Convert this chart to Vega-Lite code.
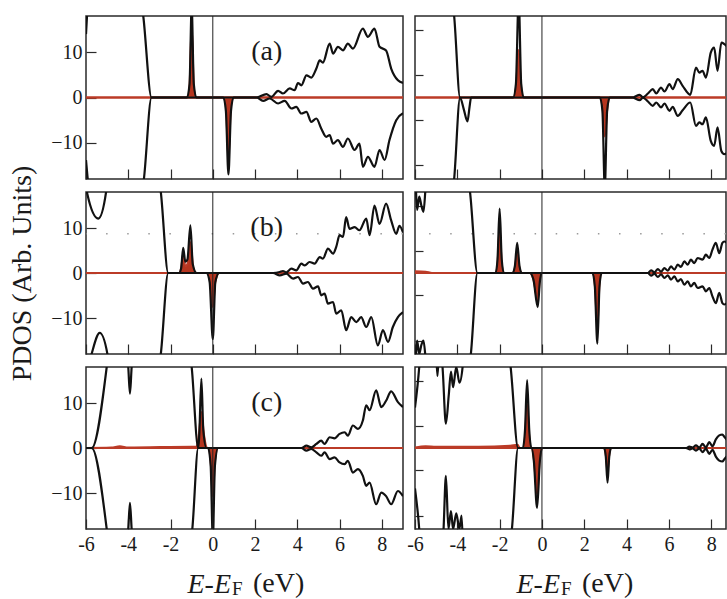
{
"$schema": "https://vega.github.io/schema/vega-lite/v6.json",
"padding": {"left": 7, "top": 14, "right": 0, "bottom": 2},
"datasets": {
"aL": [
{"s":"up","x":-6,"y":14},{"s":"up","x":-5.94,"y":19},{"s":"up","x":-5.8,"y":25},{"s":"up","x":-3.5,"y":25},{"s":"up","x":-3.29,"y":18},{"s":"up","x":-2.9,"y":0},{"s":"up","x":-1.22,"y":0},{"s":"up","x":-1.1,"y":3},{"s":"up","x":-1.0,"y":20},{"s":"up","x":-0.9,"y":3},{"s":"up","x":-0.78,"y":0},{"s":"up","x":2.06,"y":0},{"s":"up","x":2.54,"y":0.74},{"s":"up","x":2.77,"y":0.15},{"s":"up","x":3.09,"y":1.47},{"s":"up","x":3.32,"y":0.88},{"s":"up","x":3.64,"y":2.0},{"s":"up","x":3.87,"y":1.6},{"s":"up","x":4.03,"y":3.2},{"s":"up","x":4.19,"y":2.7},{"s":"up","x":4.43,"y":4.9},{"s":"up","x":4.66,"y":4.4},{"s":"up","x":4.9,"y":6.4},{"s":"up","x":5.06,"y":8.2},{"s":"up","x":5.21,"y":7.7},{"s":"up","x":5.53,"y":11.9},{"s":"up","x":5.69,"y":9.7},{"s":"up","x":5.92,"y":11.2},{"s":"up","x":6.16,"y":10.4},{"s":"up","x":6.39,"y":11.9},{"s":"up","x":6.63,"y":10.8},{"s":"up","x":7.1,"y":15.2},{"s":"up","x":7.34,"y":13.4},{"s":"up","x":7.65,"y":15.2},{"s":"up","x":7.89,"y":11.2},{"s":"up","x":8.2,"y":10.4},{"s":"up","x":8.44,"y":6.4},{"s":"up","x":8.76,"y":3.8},{"s":"up","x":9.0,"y":3.2},
{"s":"dn","x":-6,"y":-13.8},{"s":"dn","x":-5.9,"y":-19},{"s":"dn","x":-5.8,"y":-25},{"s":"dn","x":-3.5,"y":-25},{"s":"dn","x":-3.26,"y":-18},{"s":"dn","x":-2.9,"y":0},{"s":"dn","x":0.5,"y":0},{"s":"dn","x":0.62,"y":-3},{"s":"dn","x":0.74,"y":-17},{"s":"dn","x":0.86,"y":-3},{"s":"dn","x":0.98,"y":0},{"s":"dn","x":2.06,"y":0},{"s":"dn","x":2.38,"y":-0.74},{"s":"dn","x":2.69,"y":-0.22},{"s":"dn","x":3.09,"y":-1.32},{"s":"dn","x":3.4,"y":-0.74},{"s":"dn","x":3.72,"y":-2.43},{"s":"dn","x":3.95,"y":-2.06},{"s":"dn","x":4.19,"y":-3.53},{"s":"dn","x":4.43,"y":-3.16},{"s":"dn","x":4.66,"y":-5.37},{"s":"dn","x":4.9,"y":-4.64},{"s":"dn","x":5.13,"y":-6.84},{"s":"dn","x":5.37,"y":-8.68},{"s":"dn","x":5.53,"y":-8.3},{"s":"dn","x":5.69,"y":-10.2},{"s":"dn","x":5.92,"y":-9.4},{"s":"dn","x":6.16,"y":-10.9},{"s":"dn","x":6.39,"y":-9.05},{"s":"dn","x":6.71,"y":-11.6},{"s":"dn","x":6.94,"y":-10.2},{"s":"dn","x":7.1,"y":-15.3},{"s":"dn","x":7.34,"y":-13.1},{"s":"dn","x":7.65,"y":-15.3},{"s":"dn","x":7.89,"y":-11.6},{"s":"dn","x":8.13,"y":-13.8},{"s":"dn","x":8.36,"y":-9.4},{"s":"dn","x":8.68,"y":-5.0},{"s":"dn","x":9.0,"y":-3.5},
{"s":"rup","x":-6,"y":0},{"s":"rup","x":-1.18,"y":0},{"s":"rup","x":-1.1,"y":2.5},{"s":"rup","x":-1.0,"y":16},{"s":"rup","x":-0.9,"y":2.5},{"s":"rup","x":-0.82,"y":0},{"s":"rup","x":9,"y":0},
{"s":"rdn","x":-6,"y":0},{"s":"rdn","x":0.52,"y":0},{"s":"rdn","x":0.63,"y":-2.5},{"s":"rdn","x":0.74,"y":-14},{"s":"rdn","x":0.85,"y":-2.5},{"s":"rdn","x":0.96,"y":0},{"s":"rdn","x":9,"y":0}
],
"bL": [
{"s":"up","x":-6,"y":22},{"s":"up","x":-5.94,"y":17.6},{"s":"up","x":-5.42,"y":12.1},{"s":"up","x":-5.05,"y":18},{"s":"up","x":-4.9,"y":25},{"s":"up","x":-2.7,"y":25},{"s":"up","x":-2.46,"y":18},{"s":"up","x":-2.11,"y":0},{"s":"up","x":-1.6,"y":0},{"s":"up","x":-1.5,"y":1},{"s":"up","x":-1.4,"y":5.6},{"s":"up","x":-1.3,"y":2.5},{"s":"up","x":-1.2,"y":3},{"s":"up","x":-1.06,"y":10.6},{"s":"up","x":-0.95,"y":2},{"s":"up","x":-0.77,"y":0},{"s":"up","x":2.85,"y":0},{"s":"up","x":3.17,"y":0.22},{"s":"up","x":3.32,"y":0.44},{"s":"up","x":3.48,"y":0.15},{"s":"up","x":3.72,"y":0.96},{"s":"up","x":3.95,"y":0.59},{"s":"up","x":4.19,"y":2.07},{"s":"up","x":4.35,"y":1.7},{"s":"up","x":4.58,"y":2.44},{"s":"up","x":4.82,"y":2.07},{"s":"up","x":5.06,"y":3.55},{"s":"up","x":5.21,"y":3.19},{"s":"up","x":5.45,"y":5.4},{"s":"up","x":5.69,"y":4.3},{"s":"up","x":5.84,"y":5.8},{"s":"up","x":6.0,"y":8.4},{"s":"up","x":6.16,"y":8.0},{"s":"up","x":6.31,"y":12.4},{"s":"up","x":6.47,"y":9.8},{"s":"up","x":6.71,"y":10.2},{"s":"up","x":6.94,"y":9.5},{"s":"up","x":7.26,"y":12.1},{"s":"up","x":7.42,"y":8.4},{"s":"up","x":7.65,"y":15.0},{"s":"up","x":7.89,"y":10.9},{"s":"up","x":8.2,"y":15.4},{"s":"up","x":8.44,"y":11.7},{"s":"up","x":8.68,"y":8.7},{"s":"up","x":8.83,"y":10.5},{"s":"up","x":9.0,"y":9.0},
{"s":"dn","x":-6,"y":-22},{"s":"dn","x":-5.8,"y":-19},{"s":"dn","x":-5.35,"y":-13.3},{"s":"dn","x":-4.95,"y":-19},{"s":"dn","x":-4.8,"y":-25},{"s":"dn","x":-2.7,"y":-25},{"s":"dn","x":-2.46,"y":-18},{"s":"dn","x":-2.11,"y":0},{"s":"dn","x":-0.3,"y":0},{"s":"dn","x":-0.15,"y":-2},{"s":"dn","x":0.0,"y":-14.7},{"s":"dn","x":0.12,"y":-2},{"s":"dn","x":0.3,"y":0},{"s":"dn","x":2.85,"y":0},{"s":"dn","x":3.17,"y":-0.52},{"s":"dn","x":3.48,"y":-0.15},{"s":"dn","x":3.8,"y":-1.26},{"s":"dn","x":4.03,"y":-0.89},{"s":"dn","x":4.27,"y":-2.37},{"s":"dn","x":4.5,"y":-2.0},{"s":"dn","x":4.74,"y":-3.48},{"s":"dn","x":4.98,"y":-2.96},{"s":"dn","x":5.13,"y":-4.96},{"s":"dn","x":5.29,"y":-4.59},{"s":"dn","x":5.45,"y":-6.81},{"s":"dn","x":5.69,"y":-6.44},{"s":"dn","x":5.84,"y":-9.04},{"s":"dn","x":6.08,"y":-8.3},{"s":"dn","x":6.31,"y":-12.7},{"s":"dn","x":6.55,"y":-9.8},{"s":"dn","x":6.79,"y":-10.9},{"s":"dn","x":7.02,"y":-9.8},{"s":"dn","x":7.26,"y":-12.0},{"s":"dn","x":7.5,"y":-9.8},{"s":"dn","x":7.81,"y":-16.1},{"s":"dn","x":8.05,"y":-12.7},{"s":"dn","x":8.29,"y":-15.3},{"s":"dn","x":8.52,"y":-12.0},{"s":"dn","x":8.76,"y":-9.8},{"s":"dn","x":9.0,"y":-8.7},
{"s":"rup","x":-6,"y":0},{"s":"rup","x":-1.59,"y":0},{"s":"rup","x":-1.5,"y":1},{"s":"rup","x":-1.4,"y":4.3},{"s":"rup","x":-1.3,"y":1.5},{"s":"rup","x":-1.2,"y":2.0},{"s":"rup","x":-1.06,"y":6.9},{"s":"rup","x":-0.92,"y":1},{"s":"rup","x":-0.77,"y":0},{"s":"rup","x":9,"y":0},
{"s":"rdn","x":-6,"y":0},{"s":"rdn","x":-0.27,"y":0},{"s":"rdn","x":-0.12,"y":-2},{"s":"rdn","x":0.0,"y":-7.6},{"s":"rdn","x":0.12,"y":-2},{"s":"rdn","x":0.3,"y":0},{"s":"rdn","x":9,"y":0}
],
"cL": [
{"s":"up","x":-6,"y":0},{"s":"up","x":-5.73,"y":0},{"s":"up","x":-5.02,"y":18},{"s":"up","x":-4.85,"y":25},{"s":"up","x":-4.15,"y":25},{"s":"up","x":-4.0,"y":18},{"s":"up","x":-3.92,"y":12.1},{"s":"up","x":-3.84,"y":18},{"s":"up","x":-3.7,"y":25},{"s":"up","x":-1.2,"y":25},{"s":"up","x":-1.0,"y":18},{"s":"up","x":-0.69,"y":0},{"s":"up","x":-0.64,"y":3},{"s":"up","x":-0.54,"y":15.4},{"s":"up","x":-0.45,"y":4},{"s":"up","x":-0.3,"y":0},{"s":"up","x":4.19,"y":0},{"s":"up","x":4.43,"y":0.52},{"s":"up","x":4.66,"y":0.15},{"s":"up","x":4.9,"y":0.9},{"s":"up","x":5.13,"y":1.64},{"s":"up","x":5.29,"y":0.9},{"s":"up","x":5.53,"y":2.39},{"s":"up","x":5.76,"y":2.16},{"s":"up","x":6.0,"y":3.13},{"s":"up","x":6.24,"y":3.5},{"s":"up","x":6.39,"y":2.76},{"s":"up","x":6.63,"y":5.0},{"s":"up","x":6.87,"y":4.25},{"s":"up","x":7.1,"y":6.1},{"s":"up","x":7.26,"y":9.5},{"s":"up","x":7.42,"y":8.4},{"s":"up","x":7.73,"y":12.8},{"s":"up","x":7.97,"y":9.1},{"s":"up","x":8.2,"y":10.5},{"s":"up","x":8.44,"y":12.6},{"s":"up","x":8.76,"y":10.2},{"s":"up","x":9.0,"y":9.1},
{"s":"dn","x":-6,"y":0},{"s":"dn","x":-5.73,"y":0},{"s":"dn","x":-5.02,"y":-18},{"s":"dn","x":-4.85,"y":-25},{"s":"dn","x":-4.15,"y":-25},{"s":"dn","x":-4.0,"y":-18},{"s":"dn","x":-3.92,"y":-12.2},{"s":"dn","x":-3.84,"y":-18},{"s":"dn","x":-3.7,"y":-25},{"s":"dn","x":-1.2,"y":-25},{"s":"dn","x":-0.97,"y":-18},{"s":"dn","x":-0.69,"y":0},{"s":"dn","x":-0.22,"y":0},{"s":"dn","x":-0.1,"y":-4},{"s":"dn","x":0.0,"y":-20},{"s":"dn","x":0.1,"y":-4},{"s":"dn","x":0.25,"y":0},{"s":"dn","x":4.19,"y":0},{"s":"dn","x":4.43,"y":-0.6},{"s":"dn","x":4.66,"y":-0.22},{"s":"dn","x":4.9,"y":-0.97},{"s":"dn","x":5.13,"y":-1.72},{"s":"dn","x":5.29,"y":-0.97},{"s":"dn","x":5.53,"y":-2.46},{"s":"dn","x":5.76,"y":-2.09},{"s":"dn","x":6.0,"y":-3.2},{"s":"dn","x":6.24,"y":-3.58},{"s":"dn","x":6.39,"y":-2.84},{"s":"dn","x":6.63,"y":-5.45},{"s":"dn","x":6.87,"y":-4.7},{"s":"dn","x":7.1,"y":-6.2},{"s":"dn","x":7.26,"y":-8.4},{"s":"dn","x":7.42,"y":-7.7},{"s":"dn","x":7.73,"y":-12.5},{"s":"dn","x":7.97,"y":-9.9},{"s":"dn","x":8.2,"y":-10.7},{"s":"dn","x":8.44,"y":-12.5},{"s":"dn","x":8.76,"y":-9.55},{"s":"dn","x":9.0,"y":-10.7},
{"s":"rup","x":-6,"y":0},{"s":"rup","x":-4.8,"y":0.1},{"s":"rup","x":-4.4,"y":0.4},{"s":"rup","x":-4.0,"y":0.1},{"s":"rup","x":-1.0,"y":0.3},{"s":"rup","x":-0.77,"y":0.3},{"s":"rup","x":-0.66,"y":3},{"s":"rup","x":-0.54,"y":8},{"s":"rup","x":-0.42,"y":3},{"s":"rup","x":-0.25,"y":0},{"s":"rup","x":9,"y":0},
{"s":"rdn","x":-6,"y":0},{"s":"rdn","x":-0.22,"y":0},{"s":"rdn","x":-0.1,"y":-3},{"s":"rdn","x":0.0,"y":-10.7},{"s":"rdn","x":0.1,"y":-3},{"s":"rdn","x":0.25,"y":0},{"s":"rdn","x":9,"y":0}
],
"aR": [
{"s":"up","x":-6,"y":25},{"s":"up","x":-4.35,"y":25},{"s":"up","x":-4.15,"y":18},{"s":"up","x":-3.87,"y":0},{"s":"up","x":-1.36,"y":0},{"s":"up","x":-1.23,"y":3},{"s":"up","x":-1.1,"y":22},{"s":"up","x":-0.98,"y":3},{"s":"up","x":-0.86,"y":0},{"s":"up","x":4.3,"y":0},{"s":"up","x":4.38,"y":0.15},{"s":"up","x":4.62,"y":0.59},{"s":"up","x":4.77,"y":0.05},{"s":"up","x":5.01,"y":0.88},{"s":"up","x":5.24,"y":1.84},{"s":"up","x":5.4,"y":0.88},{"s":"up","x":5.63,"y":2.2},{"s":"up","x":5.79,"y":1.32},{"s":"up","x":6.03,"y":2.94},{"s":"up","x":6.18,"y":1.84},{"s":"up","x":6.42,"y":4.05},{"s":"up","x":6.65,"y":2.58},{"s":"up","x":7.01,"y":0.59},{"s":"up","x":7.28,"y":6.6},{"s":"up","x":7.44,"y":5.5},{"s":"up","x":7.59,"y":5.9},{"s":"up","x":7.75,"y":4.4},{"s":"up","x":7.98,"y":9.9},{"s":"up","x":8.14,"y":11.0},{"s":"up","x":8.3,"y":5.9},{"s":"up","x":8.48,"y":12.1},{"s":"up","x":8.62,"y":11.8},{"s":"up","x":8.8,"y":11},
{"s":"dn","x":-6,"y":-25},{"s":"dn","x":-4.35,"y":-25},{"s":"dn","x":-4.15,"y":-18},{"s":"dn","x":-3.87,"y":0},{"s":"dn","x":-3.7,"y":-2.5},{"s":"dn","x":-3.52,"y":-5.3},{"s":"dn","x":-3.42,"y":-2},{"s":"dn","x":-3.35,"y":0},{"s":"dn","x":2.74,"y":0},{"s":"dn","x":2.86,"y":-3},{"s":"dn","x":2.97,"y":-20},{"s":"dn","x":3.08,"y":-3},{"s":"dn","x":3.2,"y":0},{"s":"dn","x":4.3,"y":0},{"s":"dn","x":4.38,"y":-0.15},{"s":"dn","x":4.62,"y":-0.59},{"s":"dn","x":4.77,"y":-0.05},{"s":"dn","x":5.01,"y":-0.88},{"s":"dn","x":5.24,"y":-1.84},{"s":"dn","x":5.4,"y":-1.1},{"s":"dn","x":5.63,"y":-2.2},{"s":"dn","x":5.79,"y":-1.32},{"s":"dn","x":6.03,"y":-2.94},{"s":"dn","x":6.18,"y":-2.06},{"s":"dn","x":6.42,"y":-4.05},{"s":"dn","x":6.65,"y":-2.8},{"s":"dn","x":7.01,"y":-1.1},{"s":"dn","x":7.28,"y":-6.25},{"s":"dn","x":7.44,"y":-5.5},{"s":"dn","x":7.59,"y":-5.9},{"s":"dn","x":7.75,"y":-4.4},{"s":"dn","x":7.98,"y":-9.6},{"s":"dn","x":8.14,"y":-10.7},{"s":"dn","x":8.3,"y":-6.6},{"s":"dn","x":8.48,"y":-11.8},{"s":"dn","x":8.62,"y":-12.5},{"s":"dn","x":8.8,"y":-12},
{"s":"rup","x":-6,"y":0},{"s":"rup","x":-1.36,"y":0},{"s":"rup","x":-1.23,"y":2},{"s":"rup","x":-1.1,"y":10.5},{"s":"rup","x":-0.98,"y":2},{"s":"rup","x":-0.86,"y":0},{"s":"rup","x":8.8,"y":0},
{"s":"rdn","x":-6,"y":0},{"s":"rdn","x":2.74,"y":0},{"s":"rdn","x":2.86,"y":-2},{"s":"rdn","x":2.97,"y":-8.6},{"s":"rdn","x":3.1,"y":-2},{"s":"rdn","x":3.22,"y":0},{"s":"rdn","x":8.8,"y":0}
],
"bR": [
{"s":"up","x":-6,"y":25},{"s":"up","x":-5.95,"y":18},{"s":"up","x":-5.9,"y":14},{"s":"up","x":-5.8,"y":17},{"s":"up","x":-5.7,"y":15},{"s":"up","x":-5.6,"y":13.6},{"s":"up","x":-5.5,"y":19},{"s":"up","x":-5.4,"y":25},{"s":"up","x":-3.6,"y":25},{"s":"up","x":-3.39,"y":17.6},{"s":"up","x":-3.05,"y":0},{"s":"up","x":-2.19,"y":0},{"s":"up","x":-2.1,"y":3},{"s":"up","x":-2.0,"y":14.3},{"s":"up","x":-1.9,"y":3},{"s":"up","x":-1.8,"y":0},{"s":"up","x":-1.4,"y":0},{"s":"up","x":-1.28,"y":1.5},{"s":"up","x":-1.17,"y":6.7},{"s":"up","x":-1.06,"y":1.5},{"s":"up","x":-0.94,"y":0},{"s":"up","x":5.01,"y":0},{"s":"up","x":5.16,"y":0.59},{"s":"up","x":5.32,"y":0.15},{"s":"up","x":5.48,"y":0.89},{"s":"up","x":5.63,"y":0.3},{"s":"up","x":5.79,"y":1.1},{"s":"up","x":5.95,"y":0.52},{"s":"up","x":6.1,"y":1.48},{"s":"up","x":6.26,"y":0.74},{"s":"up","x":6.42,"y":1.85},{"s":"up","x":6.57,"y":1.33},{"s":"up","x":6.73,"y":2.6},{"s":"up","x":6.89,"y":1.85},{"s":"up","x":7.04,"y":2.96},{"s":"up","x":7.2,"y":2.2},{"s":"up","x":7.36,"y":3.33},{"s":"up","x":7.59,"y":2.96},{"s":"up","x":7.75,"y":4.07},{"s":"up","x":7.91,"y":3.33},{"s":"up","x":8.06,"y":5.2},{"s":"up","x":8.22,"y":6.7},{"s":"up","x":8.38,"y":4.4},{"s":"up","x":8.53,"y":6.7},{"s":"up","x":8.62,"y":7.0},{"s":"up","x":8.8,"y":6.5},
{"s":"dn","x":-6,"y":-25},{"s":"dn","x":-5.95,"y":-18},{"s":"dn","x":-5.9,"y":-15},{"s":"dn","x":-5.8,"y":-18},{"s":"dn","x":-5.7,"y":-16},{"s":"dn","x":-5.6,"y":-15},{"s":"dn","x":-5.5,"y":-19},{"s":"dn","x":-5.4,"y":-25},{"s":"dn","x":-3.6,"y":-25},{"s":"dn","x":-3.36,"y":-18},{"s":"dn","x":-3.05,"y":0},{"s":"dn","x":-0.57,"y":0},{"s":"dn","x":-0.4,"y":-1.5},{"s":"dn","x":-0.2,"y":-7.6},{"s":"dn","x":-0.1,"y":-2},{"s":"dn","x":-0.02,"y":0},{"s":"dn","x":2.39,"y":0},{"s":"dn","x":2.5,"y":-3},{"s":"dn","x":2.62,"y":-15.7},{"s":"dn","x":2.72,"y":-3},{"s":"dn","x":2.82,"y":0},{"s":"dn","x":5.01,"y":0},{"s":"dn","x":5.16,"y":-0.59},{"s":"dn","x":5.32,"y":-0.15},{"s":"dn","x":5.48,"y":-0.89},{"s":"dn","x":5.63,"y":-0.3},{"s":"dn","x":5.79,"y":-1.1},{"s":"dn","x":5.95,"y":-0.52},{"s":"dn","x":6.1,"y":-1.48},{"s":"dn","x":6.26,"y":-0.74},{"s":"dn","x":6.42,"y":-1.85},{"s":"dn","x":6.57,"y":-1.33},{"s":"dn","x":6.73,"y":-2.6},{"s":"dn","x":6.89,"y":-1.85},{"s":"dn","x":7.04,"y":-2.96},{"s":"dn","x":7.2,"y":-2.2},{"s":"dn","x":7.36,"y":-3.33},{"s":"dn","x":7.59,"y":-2.96},{"s":"dn","x":7.75,"y":-4.07},{"s":"dn","x":7.91,"y":-3.33},{"s":"dn","x":8.06,"y":-5.2},{"s":"dn","x":8.22,"y":-6.7},{"s":"dn","x":8.38,"y":-4.4},{"s":"dn","x":8.53,"y":-6.7},{"s":"dn","x":8.62,"y":-7.0},{"s":"dn","x":8.8,"y":-6.5},
{"s":"rup","x":-6,"y":0.4},{"s":"rup","x":-5.5,"y":0.3},{"s":"rup","x":-5.2,"y":0},{"s":"rup","x":-2.19,"y":0},{"s":"rup","x":-2.1,"y":2},{"s":"rup","x":-2.0,"y":10.2},{"s":"rup","x":-1.9,"y":2},{"s":"rup","x":-1.8,"y":0},{"s":"rup","x":-1.4,"y":0},{"s":"rup","x":-1.28,"y":1},{"s":"rup","x":-1.17,"y":4.7},{"s":"rup","x":-1.06,"y":1},{"s":"rup","x":-0.94,"y":0},{"s":"rup","x":8.8,"y":0},
{"s":"rdn","x":-6,"y":0},{"s":"rdn","x":-0.57,"y":0},{"s":"rdn","x":-0.4,"y":-1.5},{"s":"rdn","x":-0.2,"y":-6.1},{"s":"rdn","x":-0.1,"y":-1.5},{"s":"rdn","x":-0.02,"y":0},{"s":"rdn","x":2.39,"y":0},{"s":"rdn","x":2.5,"y":-2.5},{"s":"rdn","x":2.62,"y":-12},{"s":"rdn","x":2.72,"y":-2.5},{"s":"rdn","x":2.82,"y":0},{"s":"rdn","x":8.8,"y":0}
],
"cR": [
{"s":"up","x":-6,"y":9},{"s":"up","x":-5.8,"y":18},{"s":"up","x":-5.7,"y":25},{"s":"up","x":-5.05,"y":25},{"s":"up","x":-4.94,"y":16},{"s":"up","x":-4.85,"y":22},{"s":"up","x":-4.7,"y":18},{"s":"up","x":-4.54,"y":5.4},{"s":"up","x":-4.4,"y":12},{"s":"up","x":-4.3,"y":17},{"s":"up","x":-4.2,"y":13.5},{"s":"up","x":-4.05,"y":18},{"s":"up","x":-3.9,"y":14.5},{"s":"up","x":-3.75,"y":18},{"s":"up","x":-3.65,"y":25},{"s":"up","x":-1.7,"y":25},{"s":"up","x":-1.48,"y":18},{"s":"up","x":-1.13,"y":0},{"s":"up","x":-0.9,"y":0},{"s":"up","x":-0.8,"y":4},{"s":"up","x":-0.7,"y":15.1},{"s":"up","x":-0.6,"y":4},{"s":"up","x":-0.5,"y":0},{"s":"up","x":6.81,"y":0},{"s":"up","x":6.97,"y":0.3},{"s":"up","x":7.12,"y":0.1},{"s":"up","x":7.28,"y":0.6},{"s":"up","x":7.44,"y":0.1},{"s":"up","x":7.59,"y":0.9},{"s":"up","x":7.75,"y":0.15},{"s":"up","x":7.91,"y":1.3},{"s":"up","x":8.06,"y":0.4},{"s":"up","x":8.22,"y":1.9},{"s":"up","x":8.38,"y":2.8},{"s":"up","x":8.53,"y":3.0},{"s":"up","x":8.62,"y":2.5},{"s":"up","x":8.8,"y":1.5},
{"s":"dn","x":-6,"y":-9},{"s":"dn","x":-5.8,"y":-18},{"s":"dn","x":-5.7,"y":-25},{"s":"dn","x":-4.75,"y":-25},{"s":"dn","x":-4.65,"y":-18},{"s":"dn","x":-4.54,"y":-6.2},{"s":"dn","x":-4.42,"y":-18},{"s":"dn","x":-4.3,"y":-14},{"s":"dn","x":-4.2,"y":-18},{"s":"dn","x":-4.05,"y":-14.5},{"s":"dn","x":-3.9,"y":-18},{"s":"dn","x":-3.8,"y":-15},{"s":"dn","x":-3.7,"y":-25},{"s":"dn","x":-1.7,"y":-25},{"s":"dn","x":-1.42,"y":-18},{"s":"dn","x":-1.13,"y":0},{"s":"dn","x":-0.5,"y":0},{"s":"dn","x":-0.38,"y":-3},{"s":"dn","x":-0.23,"y":-13.3},{"s":"dn","x":-0.1,"y":-3},{"s":"dn","x":0,"y":0},{"s":"dn","x":2.94,"y":0},{"s":"dn","x":3.02,"y":-2},{"s":"dn","x":3.1,"y":-7.7},{"s":"dn","x":3.18,"y":-2},{"s":"dn","x":3.27,"y":0},{"s":"dn","x":6.81,"y":0},{"s":"dn","x":6.97,"y":-0.3},{"s":"dn","x":7.12,"y":-0.1},{"s":"dn","x":7.28,"y":-0.6},{"s":"dn","x":7.44,"y":-0.1},{"s":"dn","x":7.59,"y":-0.9},{"s":"dn","x":7.75,"y":-0.15},{"s":"dn","x":7.91,"y":-1.3},{"s":"dn","x":8.06,"y":-0.4},{"s":"dn","x":8.22,"y":-1.9},{"s":"dn","x":8.38,"y":-2.8},{"s":"dn","x":8.53,"y":-3.0},{"s":"dn","x":8.62,"y":-2.5},{"s":"dn","x":8.8,"y":-1.5},
{"s":"rup","x":-6,"y":0.1},{"s":"rup","x":-5.5,"y":0.4},{"s":"rup","x":-5,"y":0.3},{"s":"rup","x":-3,"y":0.3},{"s":"rup","x":-1.5,"y":0.5},{"s":"rup","x":-1.15,"y":0.7},{"s":"rup","x":-1.05,"y":0},{"s":"rup","x":-0.9,"y":0},{"s":"rup","x":-0.8,"y":2.5},{"s":"rup","x":-0.7,"y":9.8},{"s":"rup","x":-0.6,"y":2.5},{"s":"rup","x":-0.5,"y":0},{"s":"rup","x":8.8,"y":0},
{"s":"rdn","x":-6,"y":0},{"s":"rdn","x":-0.5,"y":0},{"s":"rdn","x":-0.38,"y":-2.5},{"s":"rdn","x":-0.23,"y":-10.3},{"s":"rdn","x":-0.1,"y":-2.5},{"s":"rdn","x":0,"y":0},{"s":"rdn","x":2.94,"y":0},{"s":"rdn","x":3.02,"y":-1.5},{"s":"rdn","x":3.1,"y":-5.4},{"s":"rdn","x":3.18,"y":-1.5},{"s":"rdn","x":3.27,"y":0},{"s":"rdn","x":8.8,"y":0}
]
},
"columns": 2,
"bounds": "flush",
"spacing": {"row": 13, "column": 12},
"concat": [
{"width": 317, "height": 163, "data": {"name": "aL"},
 "layer": [
  {"transform": [{"filter": "datum.s=='rup'||datum.s=='rdn'"}],
   "mark": {"type": "area", "interpolate": "monotone", "clip": true, "fill": "#b5351f", "fillOpacity": 1, "stroke": "#bb3b27", "strokeWidth": 2},
   "encoding": {
    "x": {"field": "x", "type": "quantitative", "scale": {"domain": [-6, 9], "nice": false, "zero": false},
          "axis": {"values": [-6,-5,-4,-3,-2,-1,0,1,2,3,4,5,6,7,8,9], "labels": false, "title": null, "tickSize": {"condition": {"test": "datum.value % 2 == 0", "value": -10}, "value": -5}}},
    "y": {"field": "y", "type": "quantitative", "stack": null, "scale": {"domain": [-18, 18], "nice": false},
          "axis": {"values": [-10, 0, 10], "labelPadding": 14, "tickSize": -10, "title": null}},
    "detail": {"field": "s"}}},
  {"transform": [{"filter": "datum.s=='up'||datum.s=='dn'"}],
   "mark": {"type": "line", "interpolate": "monotone", "clip": true, "color": "#111111", "strokeWidth": 2.2},
   "encoding": {"x": {"field": "x", "type": "quantitative"}, "y": {"field": "y", "type": "quantitative"}, "detail": {"field": "s"}}},
  {"data": {"values": [{"v": 0}]}, "mark": {"type": "rule", "color": "#222222", "strokeWidth": 1}, "encoding": {"x": {"field": "v", "type": "quantitative"}}},
  {"data": {"values": [{"t": "(a)", "x": 2.55, "y": 10}]}, "mark": {"type": "text", "fontSize": 28, "font": "Liberation Serif", "color": "#1a1a1a"},
   "encoding": {"x": {"field": "x", "type": "quantitative"}, "y": {"field": "y", "type": "quantitative"}, "text": {"field": "t"}}}
 ]},
{"width": 311, "height": 163, "data": {"name": "aR"},
 "layer": [
  {"transform": [{"filter": "datum.s=='rup'||datum.s=='rdn'"}],
   "mark": {"type": "area", "interpolate": "monotone", "clip": true, "fill": "#b5351f", "fillOpacity": 1, "stroke": "#bb3b27", "strokeWidth": 2},
   "encoding": {
    "x": {"field": "x", "type": "quantitative", "scale": {"domain": [-6, 8.7], "nice": false, "zero": false},
          "axis": {"values": [-6,-5,-4,-3,-2,-1,0,1,2,3,4,5,6,7,8], "labels": false, "title": null, "tickSize": {"condition": {"test": "datum.value % 2 == 0", "value": -10}, "value": -5}}},
    "y": {"field": "y", "type": "quantitative", "stack": null, "scale": {"domain": [-18, 18], "nice": false},
          "axis": {"values": [-15,-10,-5,0,5,10,15], "labels": false, "tickSize": -8, "title": null}},
    "detail": {"field": "s"}}},
  {"transform": [{"filter": "datum.s=='up'||datum.s=='dn'"}],
   "mark": {"type": "line", "interpolate": "monotone", "clip": true, "color": "#111111", "strokeWidth": 2.2},
   "encoding": {"x": {"field": "x", "type": "quantitative"}, "y": {"field": "y", "type": "quantitative"}, "detail": {"field": "s"}}},
  {"data": {"values": [{"v": 0}]}, "mark": {"type": "rule", "color": "#222222", "strokeWidth": 1}, "encoding": {"x": {"field": "v", "type": "quantitative"}}}
 ]},
{"width": 317, "height": 162, "data": {"name": "bL"},
 "layer": [
  {"data": {"values": [{"v": 8.7}]}, "mark": {"type": "rule", "color": "#9a9a9a", "strokeWidth": 1.5, "strokeDash": [1.5, 19.6]}, "encoding": {"y": {"field": "v", "type": "quantitative"}}},
  {"transform": [{"filter": "datum.s=='rup'||datum.s=='rdn'"}],
   "mark": {"type": "area", "interpolate": "monotone", "clip": true, "fill": "#b5351f", "fillOpacity": 1, "stroke": "#bb3b27", "strokeWidth": 2},
   "encoding": {
    "x": {"field": "x", "type": "quantitative", "scale": {"domain": [-6, 9], "nice": false, "zero": false},
          "axis": {"values": [-6,-5,-4,-3,-2,-1,0,1,2,3,4,5,6,7,8,9], "labels": false, "title": null, "tickSize": {"condition": {"test": "datum.value % 2 == 0", "value": -10}, "value": -5}}},
    "y": {"field": "y", "type": "quantitative", "stack": null, "scale": {"domain": [-18, 18], "nice": false},
          "axis": {"values": [-10, 0, 10], "labelPadding": 14, "tickSize": -10, "title": "PDOS (Arb. Units)", "titlePadding": 14}},
    "detail": {"field": "s"}}},
  {"transform": [{"filter": "datum.s=='up'||datum.s=='dn'"}],
   "mark": {"type": "line", "interpolate": "monotone", "clip": true, "color": "#111111", "strokeWidth": 2.2},
   "encoding": {"x": {"field": "x", "type": "quantitative"}, "y": {"field": "y", "type": "quantitative"}, "detail": {"field": "s"}}},
  {"data": {"values": [{"v": 0}]}, "mark": {"type": "rule", "color": "#222222", "strokeWidth": 1}, "encoding": {"x": {"field": "v", "type": "quantitative"}}},
  {"data": {"values": [{"t": "(b)", "x": 2.55, "y": 10}]}, "mark": {"type": "text", "fontSize": 28, "font": "Liberation Serif", "color": "#1a1a1a"},
   "encoding": {"x": {"field": "x", "type": "quantitative"}, "y": {"field": "y", "type": "quantitative"}, "text": {"field": "t"}}}
 ]},
{"width": 311, "height": 162, "data": {"name": "bR"},
 "layer": [
  {"data": {"values": [{"v": 8.7}]}, "mark": {"type": "rule", "color": "#9a9a9a", "strokeWidth": 1.5, "strokeDash": [1.5, 19.6]}, "encoding": {"y": {"field": "v", "type": "quantitative"}}},
  {"transform": [{"filter": "datum.s=='rup'||datum.s=='rdn'"}],
   "mark": {"type": "area", "interpolate": "monotone", "clip": true, "fill": "#b5351f", "fillOpacity": 1, "stroke": "#bb3b27", "strokeWidth": 2},
   "encoding": {
    "x": {"field": "x", "type": "quantitative", "scale": {"domain": [-6, 8.7], "nice": false, "zero": false},
          "axis": {"values": [-6,-5,-4,-3,-2,-1,0,1,2,3,4,5,6,7,8], "labels": false, "title": null, "tickSize": {"condition": {"test": "datum.value % 2 == 0", "value": -10}, "value": -5}}},
    "y": {"field": "y", "type": "quantitative", "stack": null, "scale": {"domain": [-18, 18], "nice": false},
          "axis": {"values": [-15,-10,-5,0,5,10,15], "labels": false, "tickSize": -8, "title": null}},
    "detail": {"field": "s"}}},
  {"transform": [{"filter": "datum.s=='up'||datum.s=='dn'"}],
   "mark": {"type": "line", "interpolate": "monotone", "clip": true, "color": "#111111", "strokeWidth": 2.2},
   "encoding": {"x": {"field": "x", "type": "quantitative"}, "y": {"field": "y", "type": "quantitative"}, "detail": {"field": "s"}}},
  {"data": {"values": [{"v": 0}]}, "mark": {"type": "rule", "color": "#222222", "strokeWidth": 1}, "encoding": {"x": {"field": "v", "type": "quantitative"}}}
 ]},
{"width": 317, "height": 162, "data": {"name": "cL"},
 "title": {"text": "\u200b \u200b \u200b (eV)", "subtitle": "F", "orient": "bottom", "anchor": "start", "frame": "group", "dx": 146, "offset": -28, "subtitlePadding": -18,
           "font": "Liberation Serif", "fontSize": 28, "fontWeight": "normal", "color": "#1a1a1a", "subtitleFont": "Liberation Serif", "subtitleFontSize": 19, "subtitleColor": "#1a1a1a"},
 "layer": [
  {"transform": [{"filter": "datum.s=='rup'||datum.s=='rdn'"}],
   "mark": {"type": "area", "interpolate": "monotone", "clip": true, "fill": "#b5351f", "fillOpacity": 1, "stroke": "#bb3b27", "strokeWidth": 2},
   "encoding": {
    "x": {"field": "x", "type": "quantitative", "scale": {"domain": [-6, 9], "nice": false, "zero": false},
          "axis": {"values": [-6,-5,-4,-3,-2,-1,0,1,2,3,4,5,6,7,8,9], "labelExpr": "datum.value % 2 == 0 ? '' + datum.value : ''", "labelPadding": 15, "title": "E-E", "titleFontStyle": "italic", "titleX": 101, "titleY": 63, "titleAlign": "left", "titleBaseline": "alphabetic", "tickSize": {"condition": {"test": "datum.value % 2 == 0", "value": -10}, "value": -5}}},
    "y": {"field": "y", "type": "quantitative", "stack": null, "scale": {"domain": [-18, 18], "nice": false},
          "axis": {"values": [-10, 0, 10], "labelPadding": 14, "tickSize": -10, "title": null}},
    "detail": {"field": "s"}}},
  {"transform": [{"filter": "datum.s=='up'||datum.s=='dn'"}],
   "mark": {"type": "line", "interpolate": "monotone", "clip": true, "color": "#111111", "strokeWidth": 2.2},
   "encoding": {"x": {"field": "x", "type": "quantitative"}, "y": {"field": "y", "type": "quantitative"}, "detail": {"field": "s"}}},
  {"data": {"values": [{"v": 0}]}, "mark": {"type": "rule", "color": "#222222", "strokeWidth": 1}, "encoding": {"x": {"field": "v", "type": "quantitative"}}},
  {"data": {"values": [{"t": "(c)", "x": 2.55, "y": 10}]}, "mark": {"type": "text", "fontSize": 28, "font": "Liberation Serif", "color": "#1a1a1a"},
   "encoding": {"x": {"field": "x", "type": "quantitative"}, "y": {"field": "y", "type": "quantitative"}, "text": {"field": "t"}}}
 ]},
{"width": 311, "height": 162, "data": {"name": "cR"},
 "title": {"text": "\u200b \u200b \u200b (eV)", "subtitle": "F", "orient": "bottom", "anchor": "start", "frame": "group", "dx": 146, "offset": -28, "subtitlePadding": -18,
           "font": "Liberation Serif", "fontSize": 28, "fontWeight": "normal", "color": "#1a1a1a", "subtitleFont": "Liberation Serif", "subtitleFontSize": 19, "subtitleColor": "#1a1a1a"},
 "layer": [
  {"transform": [{"filter": "datum.s=='rup'||datum.s=='rdn'"}],
   "mark": {"type": "area", "interpolate": "monotone", "clip": true, "fill": "#b5351f", "fillOpacity": 1, "stroke": "#bb3b27", "strokeWidth": 2},
   "encoding": {
    "x": {"field": "x", "type": "quantitative", "scale": {"domain": [-6, 8.7], "nice": false, "zero": false},
          "axis": {"values": [-6,-5,-4,-3,-2,-1,0,1,2,3,4,5,6,7,8], "labelExpr": "datum.value % 2 == 0 ? '' + datum.value : ''", "labelPadding": 15, "title": "E-E", "titleFontStyle": "italic", "titleX": 101, "titleY": 63, "titleAlign": "left", "titleBaseline": "alphabetic", "tickSize": {"condition": {"test": "datum.value % 2 == 0", "value": -10}, "value": -5}}},
    "y": {"field": "y", "type": "quantitative", "stack": null, "scale": {"domain": [-18, 18], "nice": false},
          "axis": {"values": [-15,-10,-5,0,5,10,15], "labels": false, "tickSize": -8, "title": null}},
    "detail": {"field": "s"}}},
  {"transform": [{"filter": "datum.s=='up'||datum.s=='dn'"}],
   "mark": {"type": "line", "interpolate": "monotone", "clip": true, "color": "#111111", "strokeWidth": 2.2},
   "encoding": {"x": {"field": "x", "type": "quantitative"}, "y": {"field": "y", "type": "quantitative"}, "detail": {"field": "s"}}},
  {"data": {"values": [{"v": 0}]}, "mark": {"type": "rule", "color": "#222222", "strokeWidth": 1}, "encoding": {"x": {"field": "v", "type": "quantitative"}}}
 ]}
],
"config": {
 "view": {"stroke": "#2a2a2a", "strokeWidth": 1.5},
 "font": "Liberation Serif",
 "axis": {"domain": false, "tickColor": "#2a2a2a", "tickWidth": 1.2, "grid": false,
          "labelFont": "Liberation Serif", "labelFontSize": 20, "labelColor": "#1a1a1a", "labelFlush": false, "labelOverlap": false,
          "titleFont": "Liberation Serif", "titleFontSize": 28, "titleFontWeight": "normal", "titleColor": "#1a1a1a"}
}
}
